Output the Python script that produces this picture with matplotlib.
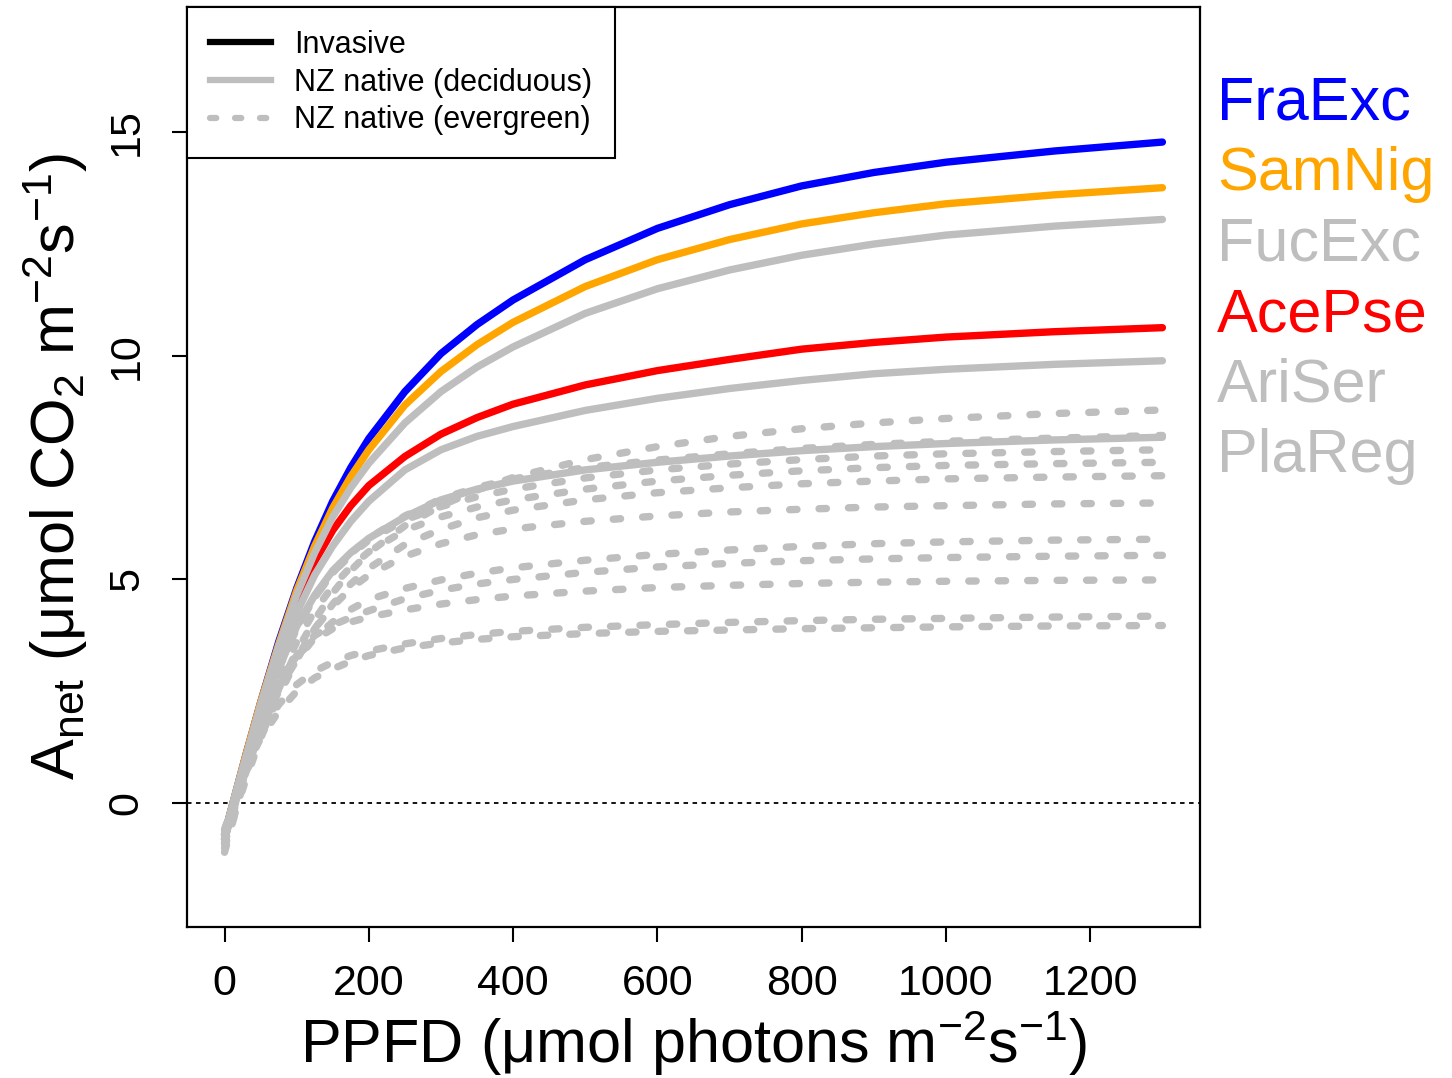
import matplotlib
matplotlib.use("Agg")
import matplotlib.pyplot as plt
from matplotlib.lines import Line2D

# light levels at which the curves were read (umol photons m-2 s-1)
ppfd = [0, 15, 30, 50, 75, 100, 125, 150, 175, 200, 250, 300, 350, 400,
        500, 600, 700, 800, 900, 1000, 1150, 1300]

# invasive species
fra_exc = [-0.7, 0.2, 1.1, 2.25, 3.6, 4.8, 5.85, 6.75, 7.5, 8.15, 9.2, 10.05, 10.7, 11.25,
           12.15, 12.85, 13.38, 13.8, 14.1, 14.33, 14.58, 14.78]
sam_nig = [-0.7, 0.2, 1.1, 2.25, 3.55, 4.75, 5.75, 6.6, 7.3, 7.9, 8.9, 9.65, 10.25, 10.75,
           11.55, 12.15, 12.6, 12.95, 13.2, 13.4, 13.6, 13.76]
ace_pse = [-0.8, 0.1, 1.0, 2.15, 3.4, 4.5, 5.4, 6.1, 6.65, 7.1, 7.75, 8.25, 8.62, 8.92,
           9.35, 9.67, 9.92, 10.15, 10.3, 10.42, 10.54, 10.63]

# NZ native deciduous
fuc_exc = [-0.7, 0.2, 1.05, 2.2, 3.5, 4.65, 5.6, 6.4, 7.05, 7.6, 8.5, 9.2, 9.75, 10.2,
           10.95, 11.5, 11.92, 12.25, 12.5, 12.7, 12.9, 13.05]
ari_ser = [-0.8, 0.05, 0.9, 2.0, 3.2, 4.25, 5.1, 5.75, 6.3, 6.75, 7.45, 7.9, 8.2, 8.42,
           8.78, 9.05, 9.27, 9.45, 9.6, 9.7, 9.81, 9.89]
pla_reg = [-0.8, 0.0, 0.85, 1.9, 3.0, 3.95, 4.65, 5.2, 5.6, 5.92, 6.4, 6.78, 7.02, 7.2,
           7.45, 7.62, 7.76, 7.88, 7.97, 8.04, 8.12, 8.18]

# NZ native evergreen
evergreen = [
    [-0.6, 0.05, 0.7, 1.55, 2.55, 3.4, 4.1, 4.7, 5.2, 5.6, 6.2, 6.65, 7.0, 7.28,
     7.68, 7.97, 8.2, 8.37, 8.5, 8.6, 8.71, 8.79],
    [-0.9, -0.05, 0.8, 1.85, 2.95, 3.9, 4.6, 5.15, 5.58, 5.92, 6.42, 6.8, 7.06, 7.25,
     7.5, 7.67, 7.81, 7.93, 8.02, 8.09, 8.16, 8.22],
    [-0.7, 0.1, 0.95, 1.95, 3.0, 3.9, 4.6, 5.15, 5.55, 5.88, 6.33, 6.63, 6.85, 7.02,
     7.27, 7.45, 7.58, 7.68, 7.76, 7.81, 7.86, 7.9],
    [-0.9, -0.05, 0.75, 1.7, 2.75, 3.6, 4.3, 4.85, 5.28, 5.62, 6.1, 6.4, 6.62, 6.78,
     7.02, 7.2, 7.33, 7.43, 7.5, 7.55, 7.59, 7.62],
    [-1.0, -0.2, 0.55, 1.45, 2.4, 3.2, 3.9, 4.45, 4.9, 5.25, 5.78, 6.12, 6.38, 6.55,
     6.78, 6.94, 7.05, 7.14, 7.2, 7.25, 7.29, 7.32],
    [-0.8, 0.0, 0.75, 1.6, 2.5, 3.25, 3.9, 4.4, 4.8, 5.1, 5.52, 5.8, 6.0, 6.13,
     6.3, 6.42, 6.51, 6.57, 6.62, 6.65, 6.69, 6.71],
    [-0.7, 0.1, 0.85, 1.7, 2.55, 3.2, 3.7, 4.05, 4.33, 4.55, 4.8, 4.99, 5.14, 5.26,
     5.43, 5.56, 5.66, 5.74, 5.8, 5.84, 5.88, 5.9],
    [-1.1, -0.2, 0.65, 1.6, 2.6, 3.3, 3.75, 3.98, 4.15, 4.3, 4.57, 4.76, 4.9, 5.0,
     5.16, 5.28, 5.36, 5.42, 5.46, 5.49, 5.52, 5.54],
    [-0.8, 0.1, 0.95, 1.85, 2.7, 3.3, 3.65, 3.9, 4.05, 4.16, 4.32, 4.45, 4.55, 4.63,
     4.74, 4.82, 4.87, 4.91, 4.94, 4.96, 4.98, 4.99],
    [-0.9, 0.0, 0.8, 1.55, 2.2, 2.65, 2.95, 3.15, 3.3, 3.4, 3.56, 3.68, 3.77, 3.84,
     3.93, 3.99, 4.04, 4.08, 4.11, 4.13, 4.16, 4.18],
    [-0.6, 0.15, 0.8, 1.45, 2.05, 2.5, 2.8, 3.0, 3.17, 3.3, 3.47, 3.58, 3.66, 3.72,
     3.79, 3.84, 3.87, 3.9, 3.92, 3.94, 3.96, 3.97],
]

species_names = ["FraExc", "SamNig", "FucExc", "AcePse", "AriSer", "PlaReg"]
species_colors = ["blue", "orange", "#BEBEBE", "red", "#BEBEBE", "#BEBEBE"]
grey = "#BEBEBE"

plt.rcParams["font.family"] = ["Liberation Sans", "DejaVu Sans"]
plt.rcParams["mathtext.fontset"] = "custom"
plt.rcParams["mathtext.rm"] = "Liberation Sans"
plt.rcParams["mathtext.it"] = "Liberation Sans:italic"
plt.rcParams["mathtext.bf"] = "Liberation Sans:bold"

fig = plt.figure(figsize=(14.52, 10.78), dpi=100)
ax = fig.add_axes([0.1288, 0.1401, 0.8264 - 0.1288, 0.9935 - 0.1401])

ax.axhline(0, color="black", lw=1.3, linestyle=(0, (2.5, 2.5)), zorder=1)

lw = 5.3
dash = (1.0, 3.0)
for y, c in zip([fra_exc, sam_nig, ace_pse], ["blue", "orange", "red"]):
    ax.plot(ppfd, y, color=c, lw=lw, solid_capstyle="round", solid_joinstyle="round", zorder=2)
for y in [fuc_exc, ari_ser, pla_reg]:
    ax.plot(ppfd, y, color=grey, lw=lw, solid_capstyle="round", solid_joinstyle="round", zorder=3)
for y in evergreen:
    ax.plot(ppfd, y, color=grey, lw=lw, dashes=dash, dash_capstyle="round", zorder=4)

ax.set_xlim(-52, 1352)
ax.set_ylim(-2.77, 17.8)
ax.set_xticks([0, 200, 400, 600, 800, 1000, 1200])
ax.set_yticks([0, 5, 10, 15])
ax.tick_params(direction="out", length=11, width=1.5, labelsize=31)
ax.tick_params(axis="x", pad=16)
ax.tick_params(axis="y", labelrotation=90, pad=18)
for t in ax.get_yticklabels():
    t.set_verticalalignment("center")
for s in ax.spines.values():
    s.set_linewidth(1.6)

ax.set_xlabel("PPFD (μmol photons m$^{-2}$s$^{-1}$)", fontsize=44, labelpad=3)
ax.set_ylabel("A$_\\mathregular{net}$ (μmol CO$_2$ m$^{-2}$s$^{-1}$)", fontsize=44, labelpad=12)

handles = [
    Line2D([], [], color="black", lw=4.5),
    Line2D([], [], color=grey, lw=4.5),
    Line2D([], [], color=grey, lw=4.5, dashes=dash, dash_capstyle="round"),
]
leg = ax.legend(handles, ["Invasive", "NZ native (deciduous)", "NZ native (evergreen)"],
                loc="upper left", borderaxespad=0, fancybox=False, edgecolor="black",
                framealpha=1, fontsize=22, handlelength=2.0, handletextpad=0.75,
                labelspacing=0.25, borderpad=0.75)
leg.get_frame().set_linewidth(1.5)

# species labels to the right of the panel
for i, (name, c) in enumerate(zip(species_names, species_colors)):
    fig.text(0.838, 1 - (119.5 + 70.5 * i) / 1078, name, color=c, fontsize=44,
             ha="left", va="baseline")

fig.savefig("out.png", dpi=100)
